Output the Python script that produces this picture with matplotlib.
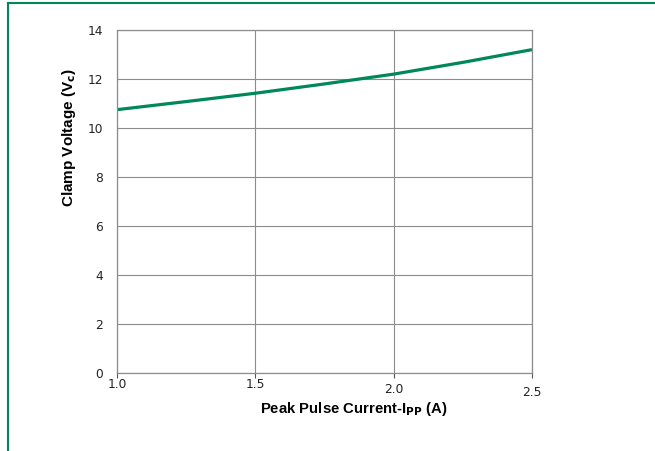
import matplotlib
matplotlib.use("Agg")
import matplotlib.pyplot as plt
from matplotlib.lines import Line2D

# Clamp voltage vs peak pulse current
current = [1.0, 1.25, 1.5, 1.75, 2.0, 2.25, 2.5]
clamp_v = [10.75, 11.08, 11.42, 11.8, 12.2, 12.68, 13.2]

x_ticks = [1.0, 1.5, 2.0, 2.5]
x_labels = ["1.0", "1.5", "2.0", "2.5"]
y_ticks = [0, 2, 4, 6, 8, 10, 12, 14]

green = "#00875a"
grid_grey = "#8c8c8c"

fig = plt.figure(figsize=(6.55, 4.51), dpi=100)
ax = fig.add_axes([0.1786, 0.1729, 0.6336, 0.7605])

ax.plot(current, clamp_v, color=green, linewidth=2.3, solid_capstyle="butt")

ax.set_xlim(1.0, 2.5)
ax.set_ylim(0, 14)
ax.set_xticks(x_ticks)
ax.set_xticklabels(x_labels, fontsize=8.8, family="DejaVu Sans")
ax.set_yticks(y_ticks)
ax.set_yticklabels([str(v) for v in y_ticks], fontsize=8.8, family="DejaVu Sans")

ax.grid(True, color=grid_grey, linewidth=0.8)
ax.set_axisbelow(True)
for s in ax.spines.values():
    s.set_color(grid_grey)
    s.set_linewidth(0.9)

ax.tick_params(axis="x", length=3.6, width=0.8, color="#555555", pad=0, labelcolor="#222222")
ax.tick_params(axis="y", length=0, pad=10, labelcolor="#222222")
# the later x labels sit a little lower
for tick, pad in zip(ax.xaxis.get_major_ticks(), [0, 0, 3.6, 5.8]):
    tick.set_pad(pad)

ax.set_xlabel(r"Peak Pulse Current-I$_{\mathbf{PP}}$ (A)", fontsize=10.7,
              fontweight="bold", family="Liberation Sans")
ax.set_ylabel(r"Clamp Voltage (V$_{\mathbf{c}}$)", fontsize=11,
              fontweight="bold", family="Liberation Sans")
ax.xaxis.set_label_coords(0.571, -0.08)
ax.yaxis.set_label_coords(-0.094, 0.685)

# green frame on left and top
fig.add_artist(Line2D([0.0122, 0.0122], [0.0, 0.9934], transform=fig.transFigure,
                      color=green, linewidth=1.5))
fig.add_artist(Line2D([0.0122, 1.0], [0.9934, 0.9934], transform=fig.transFigure,
                      color=green, linewidth=1.5))

fig.savefig("out.png", dpi=100)
